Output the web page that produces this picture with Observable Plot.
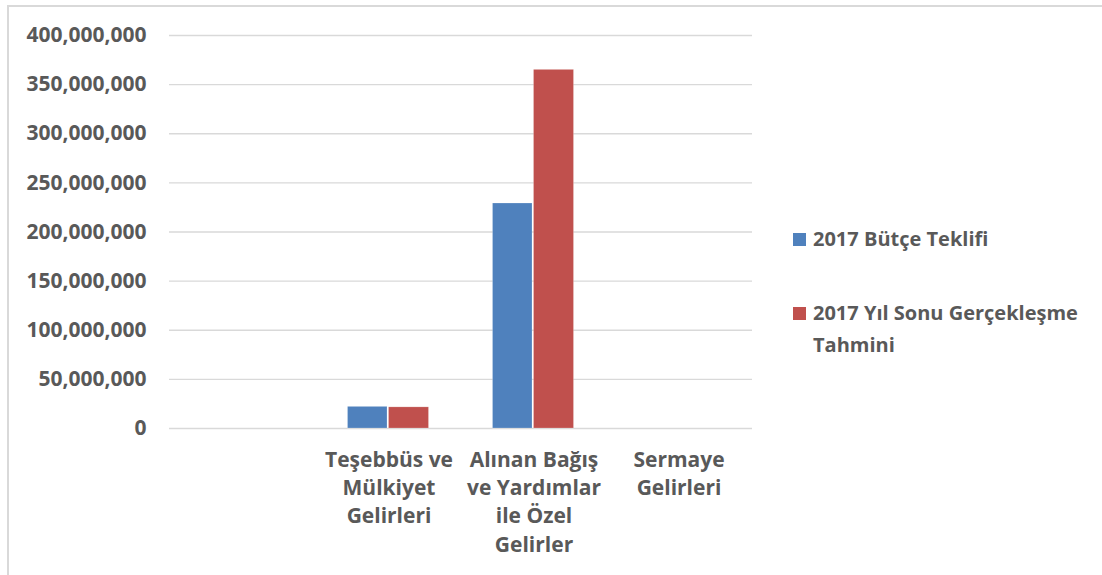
<!DOCTYPE html>
<html>
<head>
<meta charset="utf-8">
<script src="https://cdn.jsdelivr.net/npm/d3@7"></script>
<script src="https://cdn.jsdelivr.net/npm/@observablehq/plot@0.6"></script>
<style>
  html, body { margin: 0; padding: 0; background: #fff; }
  #wrap { position: relative; width: 1102px; height: 575px; overflow: hidden; }
  #border { position: absolute; left: 7px; top: 5px; width: 1200px; height: 700px;
    border-left: 2px solid #d9d9d9; border-top: 2px solid #d9d9d9; }
  #chart { position: absolute; left: 0; top: 0; }
  #legend { position: absolute; left: 793px; top: 223px; width: 290px;
    font-family: "Open Sans", sans-serif; font-weight: bold; font-size: 20px; color: #595959; }
  .item { position: relative; padding-left: 20px; line-height: 32px; }
  .item + .item { margin-top: 42px; }
  .sw { position: absolute; left: 0; top: 10px; width: 13px; height: 13px; }
</style>
</head>
<body>
<div id="wrap">
  <div id="border"></div>
  <div id="chart"></div>
  <div id="legend"></div>
</div>
<script>
const categories = ["", "Teşebbüs ve Mülkiyet Gelirleri", "Alınan Bağış ve Yardımlar ile Özel Gelirler", "Sermaye Gelirleri"];
const tickLabels = ["", "Teşebbüs ve\nMülkiyet\nGelirleri", "Alınan Bağış\nve Yardımlar\nile Özel\nGelirler", "Sermaye\nGelirleri"];
const seriesNames = ["2017 Bütçe Teklifi", "2017 Yıl Sonu Gerçekleşme Tahmini"];
const butceTeklifi = [null, 22000000, 229000000, null];
const gerceklesmeTahmini = [null, 21500000, 365000000, null];
const colors = ["#4F81BD", "#C0504D"];
const yTicks = [0, 50000000, 100000000, 150000000, 200000000, 250000000, 300000000, 350000000, 400000000];

const rowsA = [], rowsB = [];
categories.forEach((c, i) => {
  if (butceTeklifi[i] != null) rowsA.push({category: c, series: seriesNames[0], value: butceTeklifi[i]});
  if (gerceklesmeTahmini[i] != null) rowsB.push({category: c, series: seriesNames[1], value: gerceklesmeTahmini[i]});
});

const chart = Plot.plot({
  width: 1102,
  height: 575,
  marginLeft: 169,
  marginRight: 350,
  marginTop: 35,
  marginBottom: 147,
  style: {fontFamily: "'Open Sans', sans-serif", fontSize: "21px", fontWeight: "bold", color: "#595959", background: "transparent"},
  x: {domain: categories, padding: 0, label: null},
  y: {domain: [0, 400000000], label: null},
  color: {domain: seriesNames, range: colors},
  marks: [
    Plot.ruleY(yTicks, {stroke: "#d9d9d9", strokeWidth: 1.4}),
    Plot.barY(rowsA, {x: "category", y: "value", fill: "series", insetLeft: 31.5, insetRight: 74, stroke: "#fff", strokeOpacity: 0.35, strokeWidth: 0.6}),
    Plot.barY(rowsB, {x: "category", y: "value", fill: "series", insetLeft: 72.5, insetRight: 32.5, stroke: "#fff", strokeOpacity: 0.35, strokeWidth: 0.6}),
    Plot.axisY({ticks: yTicks, tickFormat: d3.format(","), tickSize: 0, tickPadding: 23, label: null}),
    Plot.axisX({anchor: "bottom", tickFormat: d => tickLabels[categories.indexOf(d)], tickSize: 0, tickPadding: 18, lineHeight: 1.35, label: null})
  ]
});
document.getElementById("chart").appendChild(chart);

const legend = document.getElementById("legend");
seriesNames.forEach((s, i) => {
  const item = document.createElement("div");
  item.className = "item";
  const sw = document.createElement("span");
  sw.className = "sw";
  sw.style.background = colors[i];
  item.appendChild(sw);
  item.appendChild(document.createTextNode(s));
  legend.appendChild(item);
});
</script>
</body>
</html>
